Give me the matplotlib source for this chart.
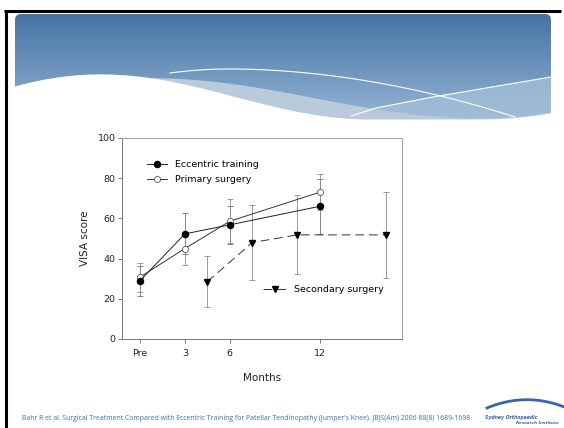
import numpy as np
import matplotlib.pyplot as plt
from matplotlib.patches import FancyBboxPatch, Polygon

# data (months after start, VISA score, +/- error)
months = [0, 3, 6, 12]
month_labels = ['Pre', '3', '6', '12']

eccentric = [29, 52.3, 56.8, 66]
eccentric_err = [7.5, 10.2, 9.6, 13.6]

primary = [30.8, 45, 58.6, 73]
primary_err = [7.2, 8.3, 11, 9]

secondary_months = [4.5, 7.5, 10.5, 16.4]
secondary = [28.5, 48, 51.8, 51.8]
secondary_err = [12.8, 18.5, 19.6, 21.4]

footer = ("Bahr R et al. Surgical Treatment Compared with Eccentric Training for "
          "Patellar Tendinopathy (Jumper's Knee). JBJS(Am) 2006 88(8) 1689-1698")

W, H = 564, 428
fig = plt.figure(figsize=(W / 100, H / 100), dpi=100)
fig.patch.set_facecolor('white')

# ---- slide background, pixel coords ----
bg = fig.add_axes([0, 0, 1, 1], zorder=0)
bg.set_xlim(0, W)
bg.set_ylim(H, 0)
bg.axis('off')

banner = FancyBboxPatch((15, 14), 536, 106, boxstyle='round,pad=0,rounding_size=6',
                        facecolor='none', edgecolor='none')
bg.add_patch(banner)
grad = np.linspace(0, 1, 256).reshape(-1, 1)
c_top = np.array([0x46, 0x72, 0xa3]) / 255
c_bot = np.array([0x94, 0xb5, 0xd5]) / 255
img = c_top + grad[..., None] * (c_bot - c_top)
im = bg.imshow(img, extent=[15, 551, 120, 14], aspect='auto', zorder=1)
im.set_clip_path(banner)


def smooth_step(x, x0, x1, y0, y1):
    s = np.clip((x - x0) / (x1 - x0), 0, 1)
    return y0 + (y1 - y0) * (1 - np.cos(np.pi * s)) / 2


xs = np.linspace(10, 556, 300)

# white wave boundary
white_y = np.where(xs < 100, 74 + 12 * ((100 - xs) / 85) ** 2,
                   smooth_step(xs, 100, 370, 74, 119))
white_y = np.where(xs > 480, 119 - 6 * ((xs - 480) / 70) ** 2, white_y)

# pale band top (starts under the wave crest)
band_y = smooth_step(xs, 150, 480, 77.7, 118)
band_y = np.where(xs < 150, white_y, band_y)
band_y = np.where(xs > 480, 118 - 6 * ((xs - 480) / 70) ** 2, band_y)

# right side lighter band under the second white line
line2_x = np.array([351, 376, 433, 551])
line2_y = np.array([116, 108, 97, 77])
band2 = Polygon(list(zip(line2_x, line2_y)) + [(551, 121), (351, 121)],
                closed=True, facecolor='#a4bfd9', edgecolor='none', alpha=0.75, zorder=2)
band2.set_clip_path(banner)
bg.add_patch(band2)

pale = bg.fill_between(xs, band_y, 125, color='#b9cbdb', lw=0, zorder=3)
pale.set_clip_path(banner)
bg.fill_between(xs, white_y, 130, color='white', lw=0, zorder=4)

line1_x = np.linspace(170, 515, 100)
line1_y = np.where(line1_x < 230, 69 + 4 * ((230 - line1_x) / 60) ** 2,
                   69 + 48 * ((line1_x - 230) / 285) ** 1.9)
bg.plot(line1_x, line1_y, color='white', lw=0.8, zorder=5)
bg.plot(line2_x, line2_y, color='white', lw=0.8, zorder=5)

# black slide frame
bg.plot([4, 561], [10.5, 10.5], color='black', lw=2.2, zorder=6, solid_capstyle='butt')
bg.plot([5.5, 5.5], [9.5, H], color='black', lw=2.2, zorder=6, solid_capstyle='butt')

bg.text(22, 418.5, footer, fontsize=4.95, family='Open Sans', color='#3e6fa6',
        va='center', ha='left', zorder=6)

# logo
t = np.linspace(0, 1, 40)
bg.plot(487 + 76 * t, 408 - 30 * t * (1 - t) - 1.5 * t, color='#3d64a8', lw=2.0, zorder=6)
bg.text(485, 417, 'Sydney Orthopaedic', fontsize=3.3, style='italic', weight='bold',
        color='#3d64a8', va='center', ha='left', zorder=6)
bg.text(516, 423.5, 'Research Institute', fontsize=3.0, style='italic', weight='bold',
        color='#3d64a8', va='center', ha='left', zorder=6)

# ---- chart ----
ax = fig.add_axes([122 / W, 1 - 339 / H, 280 / W, 201 / H], zorder=2)
ax.set_facecolor('none')

ax.errorbar(months, eccentric, yerr=eccentric_err, fmt='none', ecolor='#707070',
            elinewidth=0.6, capsize=2.4, capthick=0.6, zorder=2)
ax.errorbar(months, primary, yerr=primary_err, fmt='none', ecolor='#8a8a8a',
            elinewidth=0.6, capsize=2.4, capthick=0.6, zorder=2)
ax.errorbar(secondary_months, secondary, yerr=secondary_err, fmt='none', ecolor='#8a8a8a',
            elinewidth=0.6, capsize=2.4, capthick=0.6, zorder=2)

l1, = ax.plot(months, eccentric, color='#222222', lw=0.7, marker='o', ms=4.4,
              mfc='black', mec='black', zorder=4, label='Eccentric training')
l2, = ax.plot(months, primary, color='#333333', lw=0.7, marker='o', ms=4.4,
              mfc='white', mec='#555555', mew=0.6, zorder=3, label='Primary surgery')
l3, = ax.plot(secondary_months, secondary, color='#333333', lw=0.7, ls=(0, (9, 5)),
              marker='v', ms=4.2, mfc='black', mec='black', zorder=3,
              label='Secondary surgery')

ax.set_xlim(-1.2, 17.5)
ax.set_ylim(0, 100)
ax.set_xticks(months)
ax.set_xticklabels(month_labels)
ax.set_yticks(range(0, 101, 20))
ax.tick_params(labelsize=6.8, length=3, width=0.6, color='#666666', labelcolor='#222222')
ax.tick_params(axis='x', pad=4.5)
ax.tick_params(axis='y', pad=1.5)

for side in ['left', 'bottom']:
    ax.spines[side].set_color('#777777')
    ax.spines[side].set_linewidth(0.7)
for side in ['top', 'right']:
    ax.spines[side].set_color('#a0a0a0')
    ax.spines[side].set_linewidth(0.7)

ax.set_ylabel('VISA score', fontsize=7.5, color='#222222')
ax.yaxis.set_label_coords(-0.115, 0.5)
ax.set_xlabel('Months', fontsize=7.5, color='#222222')
ax.xaxis.set_label_coords(0.5, -0.17)

leg1 = ax.legend(handles=[l1, l2], loc='upper left', bbox_to_anchor=(0.088, 0.89),
                 frameon=False, fontsize=6.8, handlelength=2.2, handletextpad=0.75,
                 labelspacing=0.62, borderpad=0, borderaxespad=0)
ax.add_artist(leg1)
ax.legend(handles=[l3], loc='center left', bbox_to_anchor=(0.505, 0.245),
          frameon=False, fontsize=6.8, handlelength=2.5, handletextpad=0.7,
          borderpad=0, borderaxespad=0)

fig.savefig('out.png', dpi=100)
